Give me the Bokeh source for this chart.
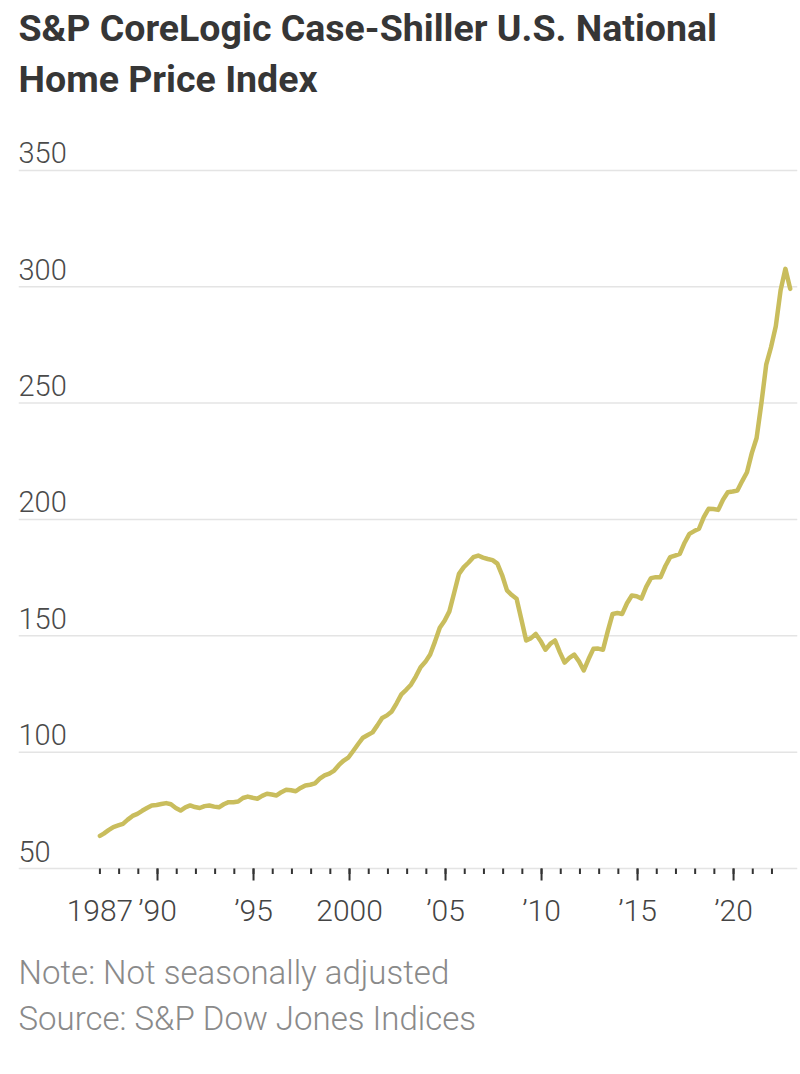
from bokeh.plotting import figure
from bokeh.models import LabelSet, ColumnDataSource, Label, Range1d
from bokeh.embed import file_html
from bokeh.resources import INLINE
from bokeh.core.properties import value

# ---- data (S&P CoreLogic Case-Shiller U.S. National Home Price Index, NSA) ----
first_date = 1987.0
first_value = 64.0
years = list(range(1987, 2023))
quarter_pos = [0.2, 0.45, 0.7, 0.95]
index_values = [
    65.0, 66.5, 67.8, 68.5,      # 1987
    69.2, 71.0, 72.6, 73.5,      # 1988
    74.8, 76.0, 77.1, 77.3,      # 1989
    77.7, 78.1, 77.6, 76.0,      # 1990
    74.9, 76.3, 77.1, 76.4,      # 1991
    76.0, 76.8, 77.1, 76.6,      # 1992
    76.3, 77.6, 78.5, 78.5,      # 1993
    78.8, 80.3, 80.9, 80.4,      # 1994
    80.0, 81.2, 82.1, 81.8,      # 1995
    81.4, 82.8, 83.8, 83.6,      # 1996
    83.2, 84.6, 85.7, 86.0,      # 1997
    86.6, 88.6, 90.0, 90.8,      # 1998
    92.1, 94.5, 96.4, 97.8,      # 1999
    100.6, 103.5, 106.2, 107.4,  # 2000
    108.5, 111.5, 114.7, 115.8,  # 2001
    117.5, 121.0, 124.8, 126.8,  # 2002
    129.0, 132.5, 136.5, 138.8,  # 2003
    142.0, 147.5, 153.5, 156.5,  # 2004
    160.5, 168.5, 176.6, 179.5,  # 2005
    181.5, 183.8, 184.5, 183.6,  # 2006
    183.0, 182.5, 181.0, 176.0,  # 2007
    169.5, 167.5, 165.9, 157.0,  # 2008
    148.0, 149.0, 150.8, 147.8,  # 2009
    144.0, 146.5, 148.0, 143.0,  # 2010
    138.5, 140.5, 141.9, 139.0,  # 2011
    135.1, 140.0, 144.4, 144.5,  # 2012
    144.0, 152.0, 159.4, 159.8,  # 2013
    159.4, 164.0, 167.3, 167.0,  # 2014
    166.0, 171.0, 174.8, 175.2,  # 2015
    175.2, 180.0, 183.8, 184.5,  # 2016
    185.2, 190.0, 193.8, 195.0,  # 2017
    196.0, 201.0, 204.6, 204.5,  # 2018
    204.1, 208.5, 211.7, 212.0,  # 2019
    212.4, 216.5, 220.3, 228.5,  # 2020
    235.0, 250.0, 266.5, 274.0,  # 2021
    283.0, 298.5, 307.7, 299.1,  # 2022
]

y_ticks = [50, 100, 150, 200, 250, 300, 350]
y_tick_labels = ["50", "100", "150", "200", "250", "300", "350"]
x_label_ticks = [1987, 1990, 1995, 2000, 2005, 2010, 2015, 2020]
x_labels = ["1987", "\u201990", "\u201995", "2000", "\u201905", "\u201910", "\u201915", "\u201920"]
x_major_ticks = [1990, 1995, 2000, 2005, 2010, 2015, 2020]
x_minor_ticks = list(range(1987, 2023))

title_line1 = "S&P CoreLogic Case-Shiller U.S. National"
title_line2 = "Home Price Index"
note_text = "Note: Not seasonally adjusted"
source_text = "Source: S&P Dow Jones Indices"

# ---- layout helpers (pixels) ----
PX = 2.327            # pixels per index point
BASE_PX = 868         # page y of the 50 baseline
FRAME_H = 1060
X0, X1 = 1982.76, 2023.33


def py(page_y):
    """data y for a given page pixel row"""
    return y_ticks[0] + (BASE_PX - page_y) / PX


dates = [first_date] + [y + q for y in years for q in quarter_pos]
values = [first_value] + index_values

FONT = "Roboto"
LIGHT = "Roboto Light, Roboto"

p = figure(
    frame_width=779, frame_height=FRAME_H,
    x_range=Range1d(X0, X1), y_range=Range1d(py(FRAME_H), py(0)),
    output_backend="svg", toolbar_location=None,
    min_border_left=18, min_border_right=1, min_border_top=0, min_border_bottom=0,
    background_fill_color="white", border_fill_color="white",
    x_axis_location=None, y_axis_location=None,
)
p.outline_line_color = None
p.grid.visible = False

# horizontal grid lines
p.segment(x0=[X0] * len(y_ticks), y0=y_ticks, x1=[X1] * len(y_ticks), y1=y_ticks,
          line_color="#e4e4e4", line_width=1.5)

# y labels above grid lines
ysrc = ColumnDataSource(dict(x=[X0] * len(y_ticks), y=y_ticks, t=y_tick_labels))
p.add_layout(LabelSet(x="x", y="y", text="t", source=ysrc, text_align="left",
                      text_baseline="alphabetic", y_offset=7, text_font=value(LIGHT),
                      text_font_size="29px", text_color="#4a4a4a"))

# x ticks
p.segment(x0=x_minor_ticks, y0=[y_ticks[0]] * len(x_minor_ticks),
          x1=x_minor_ticks, y1=[py(873.5)] * len(x_minor_ticks),
          line_color="#333333", line_width=2)
p.segment(x0=x_major_ticks, y0=[y_ticks[0]] * len(x_major_ticks),
          x1=x_major_ticks, y1=[py(880)] * len(x_major_ticks),
          line_color="#333333", line_width=2)

# x labels
xsrc = ColumnDataSource(dict(x=x_label_ticks, y=[py(920)] * len(x_label_ticks), t=x_labels))
p.add_layout(LabelSet(x="x", y="y", text="t", source=xsrc, text_align="center",
                      text_baseline="alphabetic", text_font=value(LIGHT),
                      text_font_size="30px", text_color="#444444"))

# data line
p.line(dates, values, line_color="#c9bd5d", line_width=4.5, line_join="round", line_cap="round")

# title
for txt, yy in [(title_line1, 27), (title_line2, 78)]:
    p.add_layout(Label(x=X0, y=py(yy), text=txt, text_align="left", text_baseline="alphabetic",
                       text_font=FONT, text_font_size="37.5px", text_font_style="bold",
                       text_color="#363636"))

# notes
for txt, yy in [(note_text, 972), (source_text, 1018)]:
    p.add_layout(Label(x=X0, y=py(yy), text=txt, text_align="left", text_baseline="alphabetic",
                       text_font=LIGHT, text_font_size="33px", text_color="#8a8a8a"))

open("out.html", "w").write(file_html(p, INLINE))
